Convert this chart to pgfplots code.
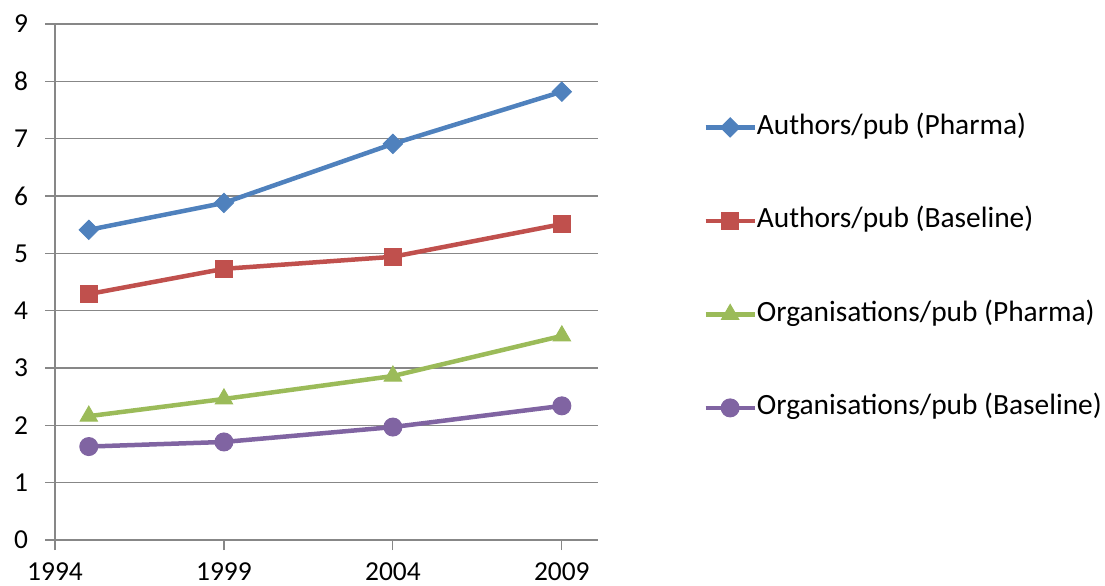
\documentclass[border=0pt]{standalone}
\usepackage{fontspec}
\setmainfont{Carlito}
\usepackage{pgfplots}
\pgfplotsset{compat=1.18}
\definecolor{xblue}{HTML}{4F81BD}
\definecolor{xred}{HTML}{C0504D}
\definecolor{xgreen}{HTML}{9BBB59}
\definecolor{xpurple}{HTML}{8064A2}
\definecolor{xgrid}{HTML}{878787}
\begin{document}
\begin{tikzpicture}
\useasboundingbox (0,0) rectangle (552.5pt,292.5pt);
\begin{axis}[
  at={(27.5pt,22.5pt)}, anchor=south west,
  scale only axis, width=271.5pt, height=258pt,
  xmin=1994, xmax=2010.07, ymin=0, ymax=9,
  xtick={1994,1999,2004,2009}, ytick={0,1,...,9},
  /pgf/number format/assume math mode=true,
  xticklabel style={/pgf/number format/1000 sep={}},
  axis x line*=bottom, axis y line*=left,
  axis line style={draw=xgrid, line width=0.6pt},
  every tick/.style={draw=xgrid, line width=0.6pt},
  tick align=outside, major tick length=5pt,
  xtick pos=bottom, ytick pos=left,
  ymajorgrids, grid style={draw=xgrid, line width=0.6pt},
  tick label style={font=\fontsize{13.7pt}{16pt}\selectfont, text=black},
  yticklabel style={xshift=-5pt},
  xticklabel style={yshift=-6pt, inner ysep=0pt, text depth=0pt},
  clip=false,
  legend style={at={(axis description cs:1.1934,0.8256)}, anchor=north west,
    draw=none, fill=none, inner sep=0pt,
    nodes={inner sep=0pt, text height=10pt, text depth=3pt, font=\fontsize{14.7pt}{17pt}\selectfont},
    /tikz/column sep=0pt, row sep=33.75pt},
  legend cell align=left,
  legend image code/.code={
    \draw[mark repeat=2, mark phase=2] plot coordinates {(0pt,0pt) (12.25pt,0pt) (24.5pt,0pt)};
  },
]
\addplot[xblue, line width=2.25pt, mark=square*, mark size=3.4pt, mark options={rotate=45, solid, line width=0.5pt}]
  coordinates {(1995,5.41) (1999,5.88) (2004,6.91) (2009,7.82)};
\addlegendentry{Authors/pub (Pharma)}
\addplot[xred, line width=2.25pt, mark=square*, mark size=4.3pt, mark options={solid, line width=0.5pt}]
  coordinates {(1995,4.29) (1999,4.73) (2004,4.94) (2009,5.51)};
\addlegendentry{Authors/pub (Baseline)}
\addplot[xgreen, line width=2.25pt, mark=triangle*, mark size=5pt, mark options={solid, line width=0.5pt}]
  coordinates {(1995,2.16) (1999,2.46) (2004,2.86) (2009,3.56)};
\addlegendentry{Organisations/pub (Pharma)}
\addplot[xpurple, line width=2.25pt, mark=*, mark size=4.5pt, mark options={solid, line width=0.5pt}]
  coordinates {(1995,1.63) (1999,1.71) (2004,1.97) (2009,2.34)};
\addlegendentry{Organisations/pub (Baseline)}
\end{axis}
\end{tikzpicture}
\end{document}
